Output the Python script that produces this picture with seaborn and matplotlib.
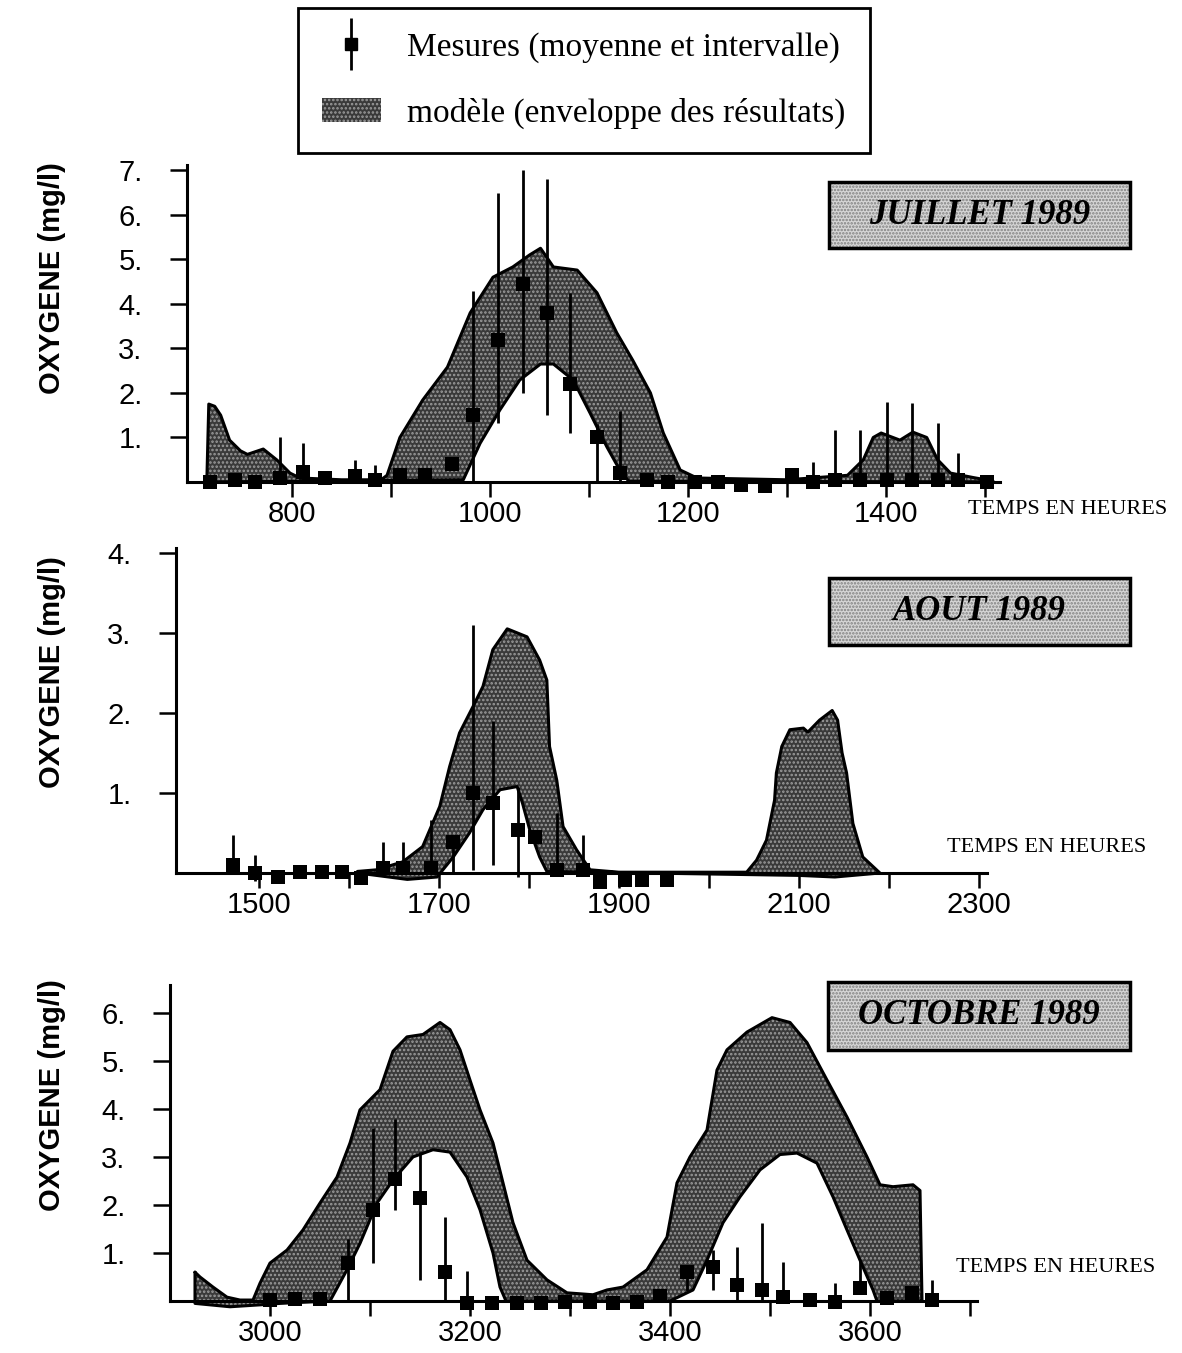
import numpy as np
import matplotlib
matplotlib.use("Agg")
import matplotlib.pyplot as plt
from matplotlib.patches import Rectangle, Patch
from matplotlib.lines import Line2D
from matplotlib.legend_handler import HandlerTuple
import seaborn as sns

sns.set_theme(style="ticks")
plt.rcParams["font.family"] = ["Liberation Sans", "DejaVu Sans"]
plt.rcParams["hatch.linewidth"] = 1.2
for k in ["axes.edgecolor", "xtick.color", "ytick.color", "text.color", "axes.labelcolor"]:
    plt.rcParams[k] = "black"

W, H = 1182, 1353

# ---- JUILLET 1989 ----
jul_up_x = [714, 716, 722, 728, 737, 748, 755, 771, 785, 798, 808, 850, 890, 896, 909, 932, 957, 980,
            1003, 1023, 1040, 1051, 1064, 1088, 1108, 1128, 1144, 1162, 1175, 1192, 1209, 1300, 1361,
            1377, 1387, 1395, 1414, 1427, 1441, 1452, 1465, 1488, 1508]
jul_up_y = [0.0, 1.75, 1.7, 1.5, 0.94, 0.7, 0.62, 0.74, 0.49, 0.2, 0.09, 0.05, 0.05, 0.15, 1.0, 1.84,
            2.58, 3.8, 4.6, 4.83, 5.1, 5.25, 4.83, 4.76, 4.25, 3.35, 2.74, 2.0, 1.1, 0.27, 0.09, 0.05,
            0.15, 0.5, 1.0, 1.1, 0.94, 1.12, 1.0, 0.5, 0.2, 0.1, 0.02]
jul_lo_x = [714, 973, 990, 1010, 1030, 1051, 1064, 1084, 1101, 1118, 1131, 1140, 1508]
jul_lo_y = [0.0, 0.05, 0.87, 1.62, 2.29, 2.65, 2.65, 2.29, 1.55, 0.79, 0.27, 0.02, 0.0]

jul_x = [717, 742, 763, 788, 811, 833, 864, 884, 909, 934, 962, 983, 1008, 1033, 1058, 1081, 1108,
         1131, 1159, 1180, 1207, 1230, 1253, 1278, 1305, 1326, 1348, 1374, 1401, 1426, 1452, 1473, 1502]
jul_mean = [0.0, 0.05, 0.0, 0.1, 0.22, 0.1, 0.13, 0.05, 0.15, 0.15, 0.4, 1.5, 3.2, 4.45, 3.8, 2.2, 1.0,
            0.2, 0.05, 0.0, 0.0, 0.0, -0.07, -0.1, 0.15, 0.0, 0.05, 0.05, 0.05, 0.05, 0.05, 0.05, 0.0]
jul_min = [0.0, 0.05, 0.0, 0.1, 0.22, 0.1, 0.13, 0.05, 0.15, 0.15, 0.4, 0.0, 1.33, 2.0, 1.5, 1.1, 0.0,
           0.0, 0.05, 0.0, 0.0, 0.0, -0.07, -0.1, 0.15, 0.0, 0.05, 0.05, 0.05, 0.05, 0.05, 0.05, 0.0]
jul_max = [0.0, 0.05, 0.0, 1.0, 0.87, 0.1, 0.5, 0.38, 0.15, 0.15, 0.4, 4.3, 6.5, 7.0, 6.8, 4.25, 1.3,
           1.6, 0.05, 0.0, 0.0, 0.0, -0.07, -0.1, 0.15, 0.45, 1.17, 1.17, 1.8, 1.78, 1.33, 0.65, 0.0]

# ---- AOUT 1989 ----
aou_up_x = [1610, 1631, 1660, 1682, 1701, 1712, 1723, 1738, 1749, 1760, 1776, 1798, 1812, 1820, 1823,
            1831, 1838, 1853, 1868, 1900, 2042, 2053, 2064, 2073, 2075, 2081, 2090, 2105, 2110, 2123,
            2137, 2143, 2148, 2153, 2160, 2171, 2190]
aou_up_y = [0.02, 0.04, 0.14, 0.33, 0.83, 1.33, 1.75, 2.08, 2.33, 2.79, 3.05, 2.95, 2.66, 2.41, 1.58,
            1.16, 0.58, 0.29, 0.04, 0.01, 0.01, 0.16, 0.41, 0.91, 1.25, 1.58, 1.79, 1.81, 1.76, 1.91,
            2.03, 1.91, 1.5, 1.25, 0.62, 0.2, 0.0]
aou_lo_x = [1610, 1665, 1698, 1716, 1734, 1749, 1768, 1787, 1793, 1801, 1812, 1820, 2100, 2140, 2190]
aou_lo_y = [0.0, -0.08, -0.05, 0.2, 0.5, 0.79, 1.04, 1.08, 0.87, 0.54, 0.2, 0.02, -0.03, -0.05, 0.0]

aou_x = [1471, 1496, 1521, 1546, 1570, 1592, 1614, 1638, 1660, 1691, 1716, 1738, 1760, 1788, 1807,
         1831, 1860, 1879, 1907, 1926, 1954]
aou_mean = [0.1, 0.0, -0.05, 0.01, 0.01, 0.01, -0.06, 0.06, 0.06, 0.06, 0.39, 1.0, 0.88, 0.54, 0.45,
            0.04, 0.04, -0.11, -0.09, -0.09, -0.09]
aou_min = [0.1, -0.1, -0.05, 0.01, 0.01, 0.01, -0.06, 0.06, 0.06, 0.06, 0.0, 0.04, 0.1, -0.05, 0.45,
           0.04, 0.04, -0.11, -0.09, -0.09, -0.09]
aou_max = [0.47, 0.22, -0.05, 0.01, 0.01, 0.01, -0.06, 0.39, 0.39, 0.66, 0.39, 3.1, 1.9, 1.08, 0.45,
           0.75, 0.47, -0.11, -0.09, -0.09, -0.09]

# ---- OCTOBRE 1989 ----
oct_up_x = [2925, 2930, 2943, 2957, 2970, 2983, 2990, 3000, 3017, 3033, 3050, 3067, 3080, 3090, 3110,
            3123, 3137, 3153, 3170, 3180, 3190, 3200, 3210, 3223, 3233, 3243, 3257, 3277, 3297, 3323,
            3337, 3353, 3377, 3397, 3407, 3420, 3437, 3447, 3457, 3477, 3502, 3520, 3537, 3557, 3577,
            3597, 3610, 3623, 3643, 3650, 3652]
oct_up_y = [0.6, 0.5, 0.29, 0.08, 0.02, 0.02, 0.37, 0.79, 1.06, 1.48, 2.04, 2.58, 3.29, 3.98, 4.4,
            5.2, 5.5, 5.55, 5.8, 5.65, 5.23, 4.6, 3.98, 3.29, 2.46, 1.63, 0.85, 0.44, 0.17, 0.13,
            0.23, 0.29, 0.65, 1.33, 2.46, 3.0, 3.56, 4.81, 5.23, 5.6, 5.9, 5.8, 5.38, 4.6, 3.83,
            3.0, 2.42, 2.38, 2.42, 2.3, 0.02]
oct_lo_x = [2925, 2960, 2990, 3010, 3060, 3077, 3090, 3107, 3123, 3143, 3163, 3180, 3197, 3210, 3223,
            3230, 3236, 3400, 3423, 3437, 3453, 3470, 3490, 3510, 3527, 3547, 3563, 3577, 3590, 3603,
            3607, 3652]
oct_lo_y = [-0.05, -0.12, -0.08, -0.05, 0.0, 0.65, 1.2, 2.04, 2.52, 3.0, 3.15, 3.1, 2.58, 1.9, 1.0,
            0.29, 0.0, 0.0, 0.23, 0.85, 1.63, 2.17, 2.73, 3.05, 3.08, 2.87, 2.17, 1.48, 0.85, 0.23,
            0.0, 0.0]

oct_x = [3000, 3025, 3050, 3078, 3103, 3125, 3150, 3175, 3197, 3222, 3247, 3271, 3295, 3320, 3343,
         3367, 3390, 3417, 3443, 3467, 3492, 3513, 3540, 3565, 3590, 3617, 3642, 3662]
oct_mean = [0.02, 0.05, 0.05, 0.8, 1.9, 2.55, 2.15, 0.6, -0.04, -0.04, -0.04, -0.04, -0.03, -0.03,
            -0.04, -0.02, 0.1, 0.6, 0.7, 0.33, 0.23, 0.08, 0.02, -0.02, 0.27, 0.06, 0.17, 0.02]
oct_min = [0.02, 0.05, 0.05, 0.0, 0.8, 1.9, 0.44, 0.0, -0.04, -0.04, -0.04, -0.04, -0.03, -0.03,
           -0.04, -0.02, 0.1, 0.2, 0.23, 0.0, 0.0, 0.08, 0.02, -0.02, 0.27, 0.06, 0.17, 0.02]
oct_max = [0.02, 0.05, 0.05, 1.3, 3.6, 3.8, 3.1, 1.75, 0.62, -0.04, -0.04, -0.04, -0.03, -0.03,
           -0.04, -0.02, 0.1, 0.6, 1.06, 1.13, 1.63, 0.81, 0.02, 0.37, 0.85, 0.06, 0.17, 0.44]

ENV_FACE = "#3a3a3a"
ENV_DOTS = "#9c9c9c"

fig = plt.figure(figsize=(W / 100, H / 100), dpi=100)


def axes_px(l, t, r, b):
    return fig.add_axes([l / W, 1 - b / H, (r - l) / W, (b - t) / H])


def panel(ax, up_x, up_y, lo_x, lo_y, mx, mm, mlo, mhi, xlim, ylim, xticks, xlabeled, yticks):
    px = np.concatenate([up_x, lo_x[::-1]])
    py = np.concatenate([up_y, lo_y[::-1]])
    ax.fill(px, py, facecolor=ENV_FACE, edgecolor=ENV_DOTS, hatch="....", linewidth=0,
            zorder=2, clip_on=False)
    ax.plot(np.append(px, px[0]), np.append(py, py[0]), color="black", lw=2.2, zorder=3,
            clip_on=False)
    ax.vlines(mx, mlo, mhi, color="black", lw=2, zorder=4, clip_on=False)
    sns.scatterplot(x=mx, y=mm, marker="s", s=100, color="black", edgecolor="black", linewidth=0,
                    ax=ax, zorder=5, clip_on=False, legend=False)
    ax.set_xlim(*xlim)
    ax.set_ylim(*ylim)
    ax.set_xticks(xticks)
    ax.set_xticklabels([str(t) if t in xlabeled else "" for t in xticks])
    ax.set_yticks(yticks)
    ax.set_yticklabels([f"{t}." for t in yticks])
    sns.despine(ax=ax)
    for s in ["left", "bottom"]:
        ax.spines[s].set_linewidth(2.2)
    ax.tick_params(axis="x", direction="out", length=11, width=1.8, pad=2, labelsize=21)
    ax.tick_params(axis="y", direction="out", length=12, width=1.8, pad=20, labelsize=21)
    ax.set_xlabel("")
    ax.set_ylabel("OXYGENE (mg/l)", fontsize=21, fontweight="bold")
    ax.yaxis.label.set_va("center")


def title_box(l, t, r, b, text):
    box = dict(transform=fig.transFigure, zorder=5)
    fig.patches.append(Rectangle((l / W, 1 - b / H), (r - l) / W, (b - t) / H,
                                 facecolor="#d6d6d6", edgecolor="#808080", hatch=".....",
                                 linewidth=0, **box))
    fig.patches.append(Rectangle((l / W, 1 - b / H), (r - l) / W, (b - t) / H,
                                 facecolor="none", edgecolor="black", linewidth=2.5, **box))
    fig.text((l + r) / 2 / W, 1 - (t + b) / 2 / H, text, ha="center", va="center",
             family="Liberation Serif", fontsize=25, fontweight="bold", style="italic", zorder=6)


def temps(xc, yc):
    fig.text(xc / W, 1 - yc / H, "TEMPS EN HEURES", ha="center", va="center",
             family="Liberation Serif", fontsize=16)


ax1 = axes_px(187, 165, 1000, 482)
panel(ax1, jul_up_x, jul_up_y, jul_lo_x, jul_lo_y, jul_x, jul_mean, jul_min, jul_max,
      (694, 1515), (0, 7.12), list(range(800, 1600, 100)), [800, 1000, 1200, 1400],
      [1, 2, 3, 4, 5, 6, 7])
ax1.yaxis.set_label_coords((52 - 187) / 813, (482 - 278) / 317)

ax2 = axes_px(176, 548, 987, 873)
panel(ax2, aou_up_x, aou_up_y, aou_lo_x, aou_lo_y, aou_x, aou_mean, aou_min, aou_max,
      (1408, 2309), (0, 4.06), list(range(1500, 2400, 100)), [1500, 1700, 1900, 2100, 2300],
      [1, 2, 3, 4])
ax2.yaxis.set_label_coords((52 - 176) / 811, (873 - 672) / 325)

ax3 = axes_px(170, 985, 977, 1301)
panel(ax3, oct_up_x, oct_up_y, oct_lo_x, oct_lo_y, oct_x, oct_mean, oct_min, oct_max,
      (2900, 3707), (0, 6.58), list(range(3000, 3800, 100)), [3000, 3200, 3400, 3600],
      [1, 2, 3, 4, 5, 6])
ax3.yaxis.set_label_coords((52 - 170) / 807, (1301 - 1095) / 316)

title_box(829, 182, 1130, 248, "JUILLET 1989")
title_box(829, 578, 1130, 645, "AOUT 1989")
title_box(828, 982, 1130, 1050, "OCTOBRE 1989")

temps(1068, 510)
temps(1047, 848)
temps(1056, 1268)

h_mes = (Line2D([], [], marker="|", markersize=38, mew=2, color="black", ls="none"),
         Line2D([], [], marker="s", markersize=9, color="black", ls="none"))
h_mod = Patch(facecolor=ENV_FACE, edgecolor=ENV_DOTS, hatch="....", linewidth=0)
leg = fig.legend([h_mes, h_mod],
                 ["Mesures (moyenne et intervalle)", "modèle (enveloppe des résultats)"],
                 handler_map={tuple: HandlerTuple(ndivide=1)},
                 loc="upper center", bbox_to_anchor=(584 / W, 1 - 8 / H), borderaxespad=0,
                 prop={"family": "Liberation Serif", "size": 24},
                 frameon=True, fancybox=False, framealpha=1, edgecolor="black",
                 borderpad=0.72, handlelength=1.75, handletextpad=0.8, labelspacing=1.05)
leg.get_frame().set_linewidth(2)

fig.savefig("out.png", dpi=100)
